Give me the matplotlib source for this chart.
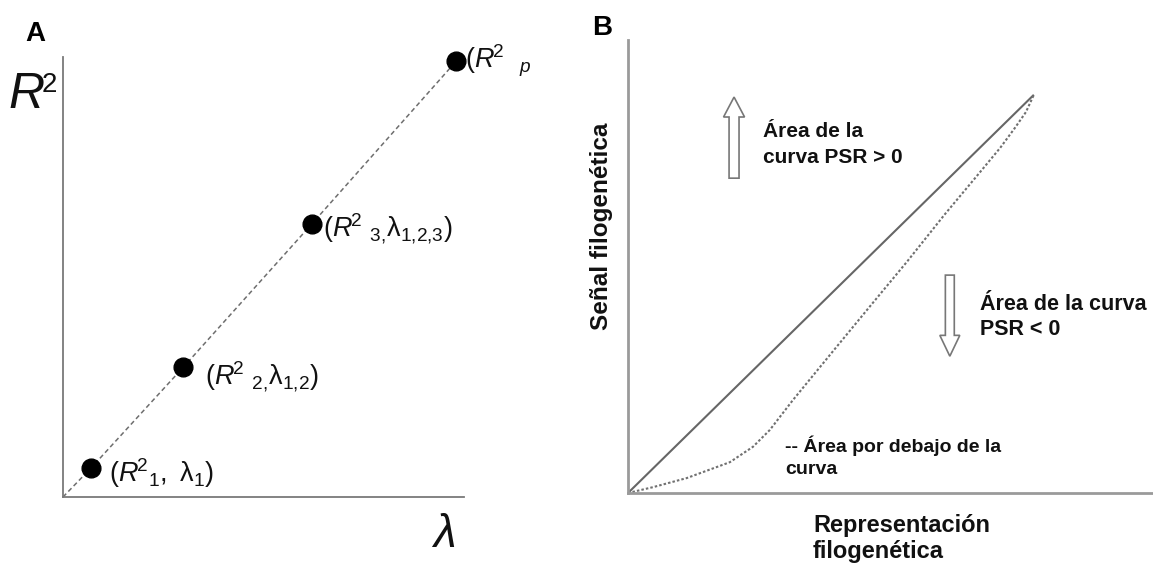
import matplotlib
matplotlib.use("Agg")
import matplotlib.pyplot as plt
from matplotlib.patches import FancyArrow

plt.rcParams["font.family"] = ["Liberation Sans", "DejaVu Sans"]
plt.rcParams["mathtext.fontset"] = "custom"
plt.rcParams["mathtext.rm"] = "Liberation Sans"
plt.rcParams["mathtext.it"] = "Liberation Sans:italic"
plt.rcParams["mathtext.bf"] = "Liberation Sans:bold"

W, H = 1153, 565

# Panel A: successive R^2 values against lambda
lam = [0.07, 0.30, 0.62, 0.98]
r2 = [0.066, 0.295, 0.62, 0.99]
point_labels = [
    r"$(R^{\!2}{}_{1},\ \mathrm{\lambda}_{1})$",
    r"$(R^{\!2}\ {}_{2{,}}\mathrm{\lambda}_{1{,}2})$",
    r"$(R^{\!2}\ {}_{3{,}}\mathrm{\lambda}_{1{,}2{,}3})$",
    r"$(R^{\!2}\ \ {}_{p}$",
]
label_offsets = [(18, -14), (22, -18), (11, -13), (9, -7)]

# Panel B: phylogenetic signal-representation curve
diag_x = [0.0, 77.3]
diag_y = [0.0, 87.9]
curve_x = [0.0, 4.8, 11.2, 19.4, 23.8, 27.0, 31.4, 39.4, 46.3, 53.1, 60.4,
           66.1, 70.9, 73.7, 75.8, 77.3]
curve_y = [0.0, 1.3, 3.3, 6.8, 10.2, 13.9, 20.5, 31.8, 41.5, 51.0, 61.6,
           69.5, 76.2, 80.6, 84.1, 87.9]


def fx(x):
    return x / W


def fy(y):
    return 1 - y / H


fig = plt.figure(figsize=(W / 100, H / 100), dpi=100)
fig.patch.set_facecolor("white")

# ---------- Panel A ----------
axA = fig.add_axes([fx(63), fy(497), 401 / W, 440 / H])
axA.set_xlim(0, 1)
axA.set_ylim(0, 1)
for s in ("top", "right"):
    axA.spines[s].set_visible(False)
for s in ("left", "bottom"):
    axA.spines[s].set_color("#7a7a7a")
    axA.spines[s].set_linewidth(1.3)
axA.set_xticks([])
axA.set_yticks([])
axA.patch.set_alpha(0)

axA.plot([0] + lam, [0] + r2, color="#6e6e6e", lw=1.1,
         linestyle=(0, (3, 2)), zorder=1, clip_on=False)
axA.plot(lam, r2, "o", color="black", markersize=13.5, zorder=3,
         clip_on=False)
for x, y, lab, (dx, dy) in zip(lam, r2, point_labels, label_offsets):
    axA.annotate(lab, (x, y), xytext=(dx, dy), textcoords="offset pixels",
                 ha="left", va="baseline", fontsize=19.5, color="#111111")

fig.text(fx(25), fy(41), "A", fontsize=20, fontweight="bold",
         ha="left", va="baseline")
fig.text(fx(8), fy(108), "R", fontsize=36, style="italic", ha="left",
         va="baseline", color="#111111")
fig.text(fx(42), fy(92), "2", fontsize=20, ha="left", va="baseline",
         color="#111111")
fig.text(fx(433), fy(547), "λ", fontsize=33, style="italic",
         ha="left", va="baseline", color="#111111")

# ---------- Panel B ----------
axB = fig.add_axes([fx(628), fy(493), 525 / W, 453 / H])
axB.set_xlim(0, 100)
axB.set_ylim(0, 100)
for s in ("top", "right"):
    axB.spines[s].set_visible(False)
for s in ("left", "bottom"):
    axB.spines[s].set_color("#9a9a9a")
    axB.spines[s].set_linewidth(2.0)
axB.set_xticks([])
axB.set_yticks([])
axB.patch.set_alpha(0)

axB.plot(diag_x, diag_y, color="#666666", lw=1.5, solid_capstyle="butt")
axB.plot(curve_x, curve_y, color="#707070", lw=1.5, linestyle=(0, (1.2, 1.0)))

arrow_style = dict(facecolor="white", edgecolor="#777777", linewidth=1.2,
                   length_includes_head=True)
axB.add_patch(FancyArrow(20.2, 69.5, 0, 17.9, width=1.9, head_width=4.0,
                         head_length=4.4, **arrow_style))
axB.add_patch(FancyArrow(61.3, 48.1, 0, -17.9, width=1.7, head_width=3.8,
                         head_length=4.6, **arrow_style))


def lines_at(x, baselines, lines, size):
    for b, t in zip(baselines, lines):
        fig.text(fx(x), fy(b), t, fontsize=size, fontweight="bold",
                 ha="left", va="baseline", color="#111111")


lines_at(763, [137, 163], ["Área de la", "curva PSR > 0"], 15)
lines_at(980, [310, 335], ["Área de la curva", "PSR < 0"], 15.5)
lines_at(785, [452, 474], ["-- Área por debajo de la", "curva"], 14)
lines_at(813, [532, 558], ["Representación", "filogenética"], 17)

fig.text(fx(608), fy(226), "Señal filogenética", fontsize=17.5,
         fontweight="bold", rotation=90, rotation_mode="anchor",
         ha="center", va="baseline", color="#111111")
fig.text(fx(592), fy(35), "B", fontsize=20, fontweight="bold",
         ha="left", va="baseline")

fig.savefig("out.png", dpi=100, facecolor="white")
